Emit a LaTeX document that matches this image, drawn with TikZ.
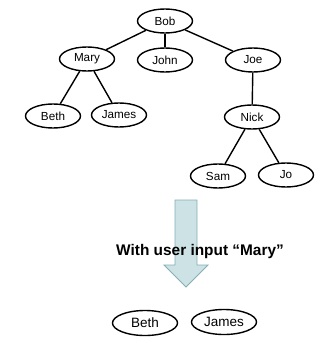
\documentclass[tikz,border=0pt]{standalone}
\usepackage{fontspec}
\setmainfont{Liberation Sans}
\usetikzlibrary{shapes.geometric}
\definecolor{arrowfill}{HTML}{CCE2E5}
\definecolor{arrowline}{HTML}{85AEB5}
\tikzset{
  person/.style={ellipse, draw=black, line width=1.4pt, inner sep=0pt,
    minimum width=55pt, minimum height=24pt, font=\fontsize{11.7}{12}\selectfont},
  bigperson/.style={person, minimum width=65pt, minimum height=25pt,
    font=\fontsize{13.5}{14}\selectfont},
  link/.style={line width=1.4pt, black},
  caption/.style={font=\bfseries\fontsize{15.4}{16}\selectfont, inner sep=0pt}
}
\begin{document}
\begin{tikzpicture}[x=1pt,y=1pt]
\useasboundingbox (0,0) rectangle (320,-337);
% family tree
\node[person] (bob)   at (165,-21)  {Bob};
\node[person] (mary)  at (87,-59)   {Mary};
\node[person] (john)  at (165,-60)  {John};
\node[person] (joe)   at (253,-60)  {Joe};
\node[person] (beth)  at (53,-116)  {Beth};
\node[person] (james) at (119,-115) {James};
\node[person] (nick)  at (252,-117) {Nick};
\node[person] (sam)   at (218,-176) {Sam};
\node[person] (jo)    at (286,-175) {Jo};
\draw[link] (bob) -- (mary);
\draw[link] (bob) -- (john);
\draw[link] (bob) -- (joe);
\draw[link] (mary) -- (beth);
\draw[link] (mary) -- (james);
\draw[link] (joe) -- (nick);
\draw[link] (nick) -- (sam);
\draw[link] (nick) -- (jo);
% downward block arrow
\draw[fill=arrowfill, draw=arrowline, line width=0.8pt, line join=miter]
  (175,-200) -- (197,-200) -- (197,-265) -- (208,-265) -- (186,-287)
  -- (164,-265) -- (175,-265) -- cycle;
\node[caption, anchor=base] (query) at (200,-255) {With user input “Mary”};
% result
\node[bigperson] (rbeth)  at (145,-323) {Beth};
\node[bigperson] (rjames) at (224,-322) {James};
\end{tikzpicture}
\end{document}
